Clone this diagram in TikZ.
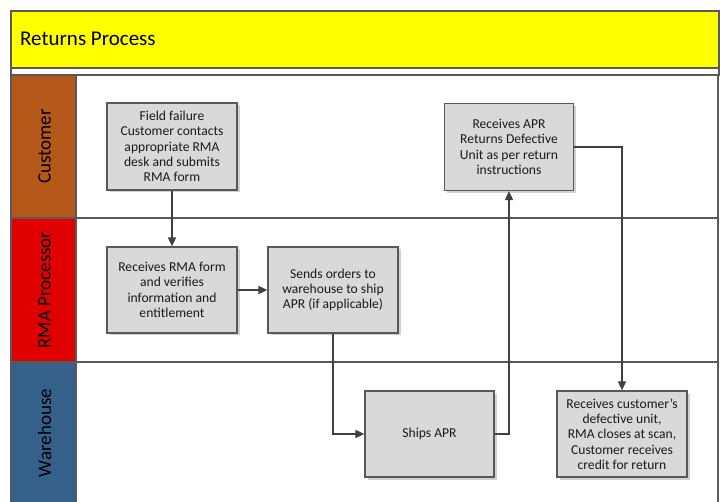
\documentclass[tikz,border=0pt]{standalone}
\usepackage{fontspec}
\setmainfont{Carlito}
\usetikzlibrary{arrows.meta,shadows}
\definecolor{linegray}{HTML}{595959}
\definecolor{conngray}{HTML}{404040}
\definecolor{boxfill}{HTML}{D9D9D9}
\definecolor{titleyellow}{HTML}{FFFF00}
\definecolor{custbrown}{HTML}{B5581A}
\definecolor{rmared}{HTML}{E00000}
\definecolor{whblue}{HTML}{356089}
\definecolor{txt}{HTML}{1A1A1A}
\begin{document}
\begin{tikzpicture}[x=1pt,y=-1pt,
  lanearea/.style={draw=linegray, line width=1.2pt, fill=white},
  lanecol/.style={draw=linegray, line width=1.2pt},
  lanelabel/.style={rotate=90, font=\fontsize{19}{21}\selectfont, text=black},
  procbox/.style={draw=linegray, fill=boxfill, line width=1.2pt, minimum width=130pt,
    minimum height=87pt, align=center, inner sep=2pt, text=txt,
    font=\fontsize{13.6}{15.3}\selectfont,
    drop shadow={shadow xshift=2.5pt, shadow yshift=-2.5pt, fill=black!18, opacity=1}},
  conn/.style={draw=conngray, line width=1.6pt, -{Triangle[length=9pt,width=8pt]}}
]
\useasboundingbox (0,0) rectangle (725,502);
% title
\draw[lanecol, fill=titleyellow] (11,11) rectangle (719,68);
\node[anchor=base west, inner sep=0pt, font=\fontsize{21}{24}\selectfont, text=black] (title) at (20,46) {Returns Process};
\draw[lanecol, fill=white] (11,68) rectangle (719,75);
% lanes
\draw[lanearea] (76,75) rectangle (718,218);
\draw[lanecol, fill=custbrown] (11,75) rectangle (76,218);
\draw[lanearea] (76,218) rectangle (718,362);
\draw[lanecol, fill=rmared] (11,218) rectangle (76,362);
\draw[lanearea] (76,362) rectangle (718,506);
\draw[lanecol, fill=whblue] (11,362) rectangle (76,506);
\node[lanelabel] (l1) at (44.5,146.5) {Customer};
\node[lanelabel] (l2) at (44.5,290) {RMA Processor};
\node[lanelabel] (l3) at (44.5,433) {Warehouse};
% process boxes
\node[procbox] (b1) at (172,146.5) {Field failure\\Customer contacts\\appropriate RMA\\desk and submits\\RMA form};
\node[procbox, minimum height=86pt] (b2) at (172,290) {Receives RMA form\\and verifies\\information and\\entitlement};
\node[procbox, minimum height=86pt] (b3) at (333,290) {Sends orders to\\warehouse to ship\\APR (if applicable)};
\node[procbox, minimum width=129pt] (b4) at (509,147) {Receives APR\\Returns Defective\\Unit as per return\\instructions};
\node[procbox, minimum width=129pt, minimum height=86pt] (b5) at (429.5,434) {Ships APR};
\node[procbox, minimum height=86pt] (b6) at (622,434) {Receives customer’s\\defective unit,\\RMA closes at scan,\\Customer receives\\credit for return};
% connectors
\draw[conn] (b1.south) -- (b2.north);
\draw[conn] (b2.east) -- (b3.west);
\draw[conn] (b3.south) |- (b5.west);
\draw[conn] (b5.east) -| (b4.south);
\draw[conn] (b4.east) -| (b6.north);
\end{tikzpicture}
\end{document}
